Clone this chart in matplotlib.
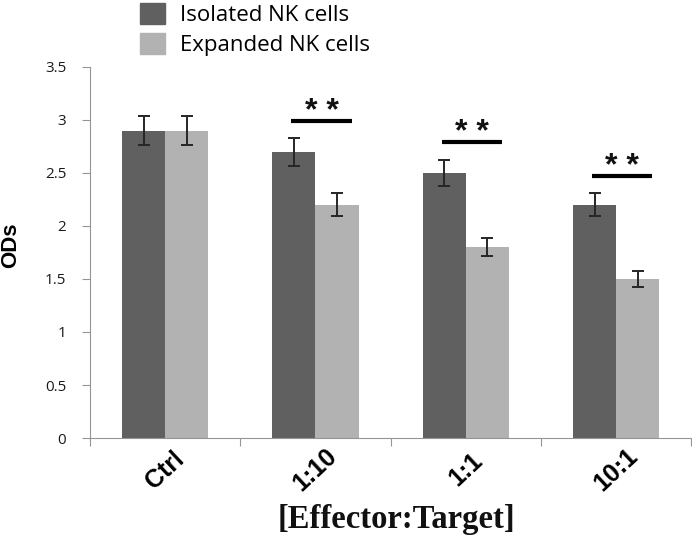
import numpy as np
import matplotlib.pyplot as plt
from matplotlib.patches import Patch

# 数据
categories = ['Ctrl', '1:10', '1:1', '10:1']
isolated = [2.9, 2.7, 2.5, 2.2]
isolated_err = [0.14, 0.13, 0.12, 0.11]
expanded = [2.9, 2.2, 1.8, 1.5]
expanded_err = [0.14, 0.11, 0.085, 0.075]
sig_groups = [1, 2, 3]            # 有显著性标记的组
sig_heights = [2.99, 2.79, 2.47]  # 横线高度

c_dark = '#606060'
c_light = '#b2b2b2'
c_axis = '#959595'

fig = plt.figure(figsize=(6.92, 5.35), dpi=100)
ax = fig.add_axes([0.130, 0.1813, 0.869, 0.6935])

x = np.arange(len(categories))
w = 0.287
ax.bar(x - w / 2, isolated, w, color=c_dark, zorder=2)
ax.bar(x + w / 2, expanded, w, color=c_light, zorder=2)
ax.errorbar(x - w / 2, isolated, yerr=isolated_err, fmt='none', ecolor='#262626',
            elinewidth=1.4, capsize=4.2, capthick=1.4, zorder=3)
ax.errorbar(x + w / 2, expanded, yerr=expanded_err, fmt='none', ecolor='#262626',
            elinewidth=1.4, capsize=4.2, capthick=1.4, zorder=3)

# 显著性标记
for g, h in zip(sig_groups, sig_heights):
    ax.plot([g - 0.16, g + 0.24], [h, h], color='black', lw=3.0, solid_capstyle='butt')
    ax.text(g + 0.04, h + 0.01, '* *', ha='center', va='baseline', fontsize=23,
            fontweight='bold', color='#111111', family='Liberation Sans')

ax.set_xlim(-0.5, 3.5)
ax.set_ylim(0, 3.5)
ax.set_yticks(np.arange(0, 3.51, 0.5))
ax.set_yticklabels(['0', '0.5', '1', '1.5', '2', '2.5', '3', '3.5'],
                   fontsize=11, family='Open Sans', color='#1a1a1a')
ax.set_xticks(np.arange(-0.5, 3.6, 1))
ax.set_xticklabels([])
ax.set_xticks(x, minor=True)
ax.set_xticklabels(categories, minor=True, rotation=43, ha='center', va='center',
                   rotation_mode='anchor', fontsize=18, fontweight='bold',
                   family='Liberation Sans')
ax.tick_params(axis='x', which='minor', length=0, pad=23)
ax.tick_params(axis='x', which='major', length=5.5, color=c_axis)
ax.tick_params(axis='y', length=6, color=c_axis, pad=11)

for s in ['top', 'right']:
    ax.spines[s].set_visible(False)
for s in ['left', 'bottom']:
    ax.spines[s].set_color(c_axis)

# 轴标题
fig.text(11 / 692, 290 / 535, 'ODs', rotation=90, ha='center', va='center',
         fontsize=16, fontweight='bold', family='Liberation Sans')
fig.text(396 / 692, 7 / 535, '[Effector:Target]', ha='center', va='baseline',
         fontsize=23.5, fontweight='bold', family='Liberation Serif', color='#111111')

handles = [Patch(color=c_dark), Patch(color=c_light)]
fig.legend(handles, ['Isolated NK cells', 'Expanded NK cells'], loc='upper left',
           bbox_to_anchor=(140 / 692, 1 - 3 / 535), frameon=False, borderpad=0,
           borderaxespad=0, prop={'family': 'Open Sans', 'size': 16},
           handlelength=1.13, handleheight=1.1, handletextpad=0.68, labelspacing=0.3)

fig.savefig('out.png', dpi=100)
